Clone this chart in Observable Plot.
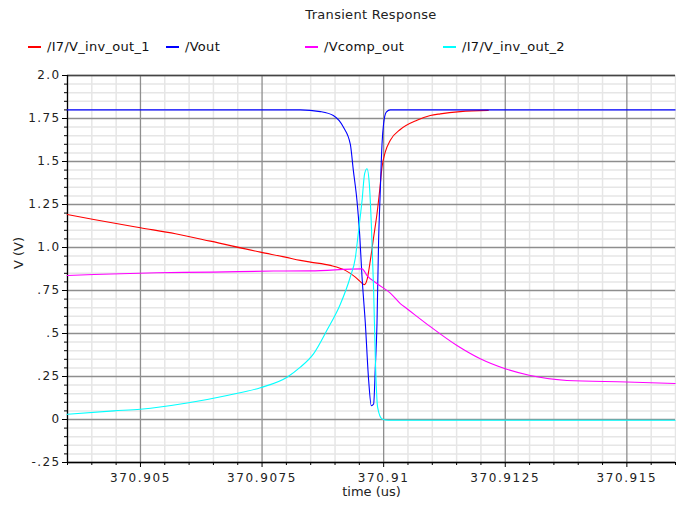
<!DOCTYPE html>
<html>
<head>
<meta charset="utf-8">
<script src="https://cdn.jsdelivr.net/npm/d3@7"></script>
<script src="https://cdn.jsdelivr.net/npm/@observablehq/plot@0.6"></script>
<style>
  html, body { margin: 0; padding: 0; background: #fff; }
  #wrap { width: 676px; position: relative; font-family: "DejaVu Sans", sans-serif; }
  #header { position: relative; height: 60px; }
  #title { position: absolute; left: 0; width: 742px; top: 7px; text-align: center; font-size: 13px; color: #222; letter-spacing: 0.3px; }
  .item { position: absolute; top: 39px; font-size: 13px; line-height: 16px; color: #111; white-space: nowrap; letter-spacing: 0.3px; }
  .sw { display: inline-block; width: 13px; height: 2px; vertical-align: middle; margin-right: 6px; position: relative; top: -1px; }
  #chart g[aria-label="x-axis tick label"] text { letter-spacing: 1.6px; }
  #chart g[aria-label="y-axis tick label"] text { letter-spacing: 1.4px; }
</style>
</head>
<body>
<div id="wrap">
  <div id="header">
    <div id="title">Transient Response</div>
    <div id="legend"></div>
  </div>
  <div id="chart"></div>
</div>
<script>
const seriesNames = ["/I7/V_inv_out_1", "/Vout", "/Vcomp_out", "/I7/V_inv_out_2"];
const seriesColors = ["#ff0000", "#0000ff", "#ff00ff", "#00ffff"];

// /I7/V_inv_out_1 (red)
const redT = [370.903494, 370.904040, 370.905, 370.905719, 370.906438, 370.907466, 370.907979, 370.908287, 370.908493, 370.908904, 370.909212, 370.909418, 370.909541, 370.909602, 370.909664, 370.909726, 370.909794, 370.909863, 370.909917, 370.909966, 370.910034, 370.910137, 370.910342, 370.910685, 370.910959, 370.911164, 370.911575, 370.91215];
const redV = [1.192, 1.163, 1.115, 1.080, 1.037, 0.973, 0.944, 0.925, 0.915, 0.896, 0.867, 0.828, 0.796, 0.784, 0.819, 0.925, 1.060, 1.196, 1.330, 1.467, 1.556, 1.624, 1.686, 1.740, 1.767, 1.777, 1.790, 1.797];

// /Vout (blue)
const blueT = [370.903494, 370.908287, 370.908698, 370.908965, 370.909171, 370.909315, 370.909376, 370.909452, 370.909506, 370.909555, 370.909623, 370.909691, 370.909746, 370.909794, 370.909828, 370.909863, 370.909896, 370.909931, 370.909966, 370.909999, 370.910054, 370.910137, 370.915992];
const blueV = [1.80, 1.80, 1.79, 1.767, 1.70, 1.60, 1.45, 1.27, 1.08, 0.83, 0.56, 0.23, 0.08, 0.09, 0.30, 0.56, 1.04, 1.33, 1.60, 1.72, 1.787, 1.80, 1.80];

// /Vcomp_out (magenta)
const magT = [370.903494, 370.904040, 370.905343, 370.9065, 370.907733, 370.908493, 370.909555, 370.909658, 370.909863, 370.910137, 370.910342, 370.91048, 370.910959, 370.911507, 370.911986, 370.9125, 370.913013, 370.913767, 370.915, 370.915992];
const magV = [0.837, 0.843, 0.853, 0.857, 0.863, 0.864, 0.876, 0.837, 0.790, 0.735, 0.674, 0.644, 0.540, 0.430, 0.353, 0.295, 0.256, 0.227, 0.218, 0.209];

// /I7/V_inv_out_2 (cyan)
const cyanT = [370.903494, 370.904451, 370.905, 370.905960, 370.906781, 370.907466, 370.908014, 370.908287, 370.908561, 370.908836, 370.909109, 370.909315, 370.909418, 370.909485, 370.909555, 370.909609, 370.909658, 370.909705, 370.909746, 370.909794, 370.909828, 370.909876, 370.909966, 370.910096, 370.915992];
const cyanV = [0.030, 0.050, 0.060, 0.096, 0.140, 0.185, 0.246, 0.304, 0.383, 0.520, 0.670, 0.830, 0.940, 1.100, 1.270, 1.430, 1.458, 1.370, 1.140, 0.750, 0.360, 0.070, 0.003, -0.004, -0.004];

const xTicks = [370.905, 370.9075, 370.91, 370.9125, 370.915];
const xTickLabels = ["370.905", "370.9075", "370.91", "370.9125", "370.915"];
const yTicks = [-0.25, 0, 0.25, 0.5, 0.75, 1.0, 1.25, 1.5, 1.75, 2.0];
const yTickLabels = ["-.25", "0", ".25", ".5", ".75", "1.0", "1.25", "1.5", "1.75", "2.0"];

const xDomain = [370.9035, 370.916];
const yDomain = [-0.25, 2.0];

const xMinor = d3.range(0, 26).map(i => 370.9035 + i * 0.0005).filter(v => v <= 370.916 && !xTicks.some(t => Math.abs(t - v) < 1e-7));
const yMinor = d3.range(0, 46).map(i => -0.25 + i * 0.05).filter(v => !yTicks.some(t => Math.abs(t - v) < 1e-7));

const tables = [[redT, redV], [blueT, blueV], [magT, magV], [cyanT, cyanV]].map(([T, V], k) =>
  T.map((t, i) => ({t, v: V[i], s: seriesNames[k]})));

// legend
const legend = document.getElementById("legend");
const legendLeft = [28, 166, 305, 443];
seriesNames.forEach((n, i) => {
  const d = document.createElement("div");
  d.className = "item";
  d.style.left = legendLeft[i] + "px";
  const sw = document.createElement("span");
  sw.className = "sw";
  sw.style.background = seriesColors[i];
  d.appendChild(sw);
  d.appendChild(document.createTextNode(n));
  legend.appendChild(d);
});

const fmtX = v => xTickLabels[xTicks.findIndex(t => Math.abs(t - v) < 1e-7)] ?? "";
const fmtY = v => yTickLabels[yTicks.findIndex(t => Math.abs(t - v) < 1e-7)] ?? "";

const chart = Plot.plot({
  width: 676,
  height: 446,
  marginLeft: 67,
  marginRight: 1,
  marginTop: 15,
  marginBottom: 44,
  style: {fontFamily: "DejaVu Sans, sans-serif", fontSize: "12px", color: "#222", background: "#fff"},
  x: {domain: xDomain, axis: null},
  y: {domain: yDomain, axis: null},
  marks: [
    Plot.ruleX(xMinor, {stroke: "#e6e6e6", strokeWidth: 1.5}),
    Plot.ruleY(yMinor, {stroke: "#e6e6e6", strokeWidth: 1.5}),
    Plot.ruleX(xTicks, {stroke: "#8e8e8e", strokeWidth: 1.3}),
    Plot.ruleY(yTicks, {stroke: "#8e8e8e", strokeWidth: 1.3}),
    Plot.ruleY([2.0], {stroke: "#444", strokeWidth: 1.3}),
    Plot.axisX(xMinor, {tickSize: 3, tickFormat: () => "", label: null, stroke: "#000"}),
    Plot.axisX(xTicks, {tickSize: 5, tickPadding: 6, fontSize: 12, tickFormat: fmtX, label: null, stroke: "#000", fill: "#222"}),
    Plot.axisY(yMinor, {tickSize: 3, tickFormat: () => "", label: null, stroke: "#000"}),
    Plot.axisY(yTicks, {tickSize: 5, tickPadding: 2, fontSize: 12, tickFormat: fmtY, label: null, stroke: "#000", fill: "#222"}),
    Plot.ruleX([xDomain[0]], {stroke: "#000", strokeWidth: 1.3}),
    Plot.ruleY([yDomain[0]], {stroke: "#000", strokeWidth: 1.3}),
    ...tables.map((tb, k) => Plot.line(tb, {x: "t", y: "v", stroke: seriesColors[k], strokeWidth: 1.1, curve: "monotone-x"})),
    Plot.text(["V (V)"], {frameAnchor: "left", dx: -49, rotate: -90, fill: "#222", fontSize: 13}),
    Plot.text(["time (us)"], {frameAnchor: "bottom", dy: 33, fill: "#222", fontSize: 13})
  ]
});
document.getElementById("chart").appendChild(chart);
</script>
</body>
</html>
